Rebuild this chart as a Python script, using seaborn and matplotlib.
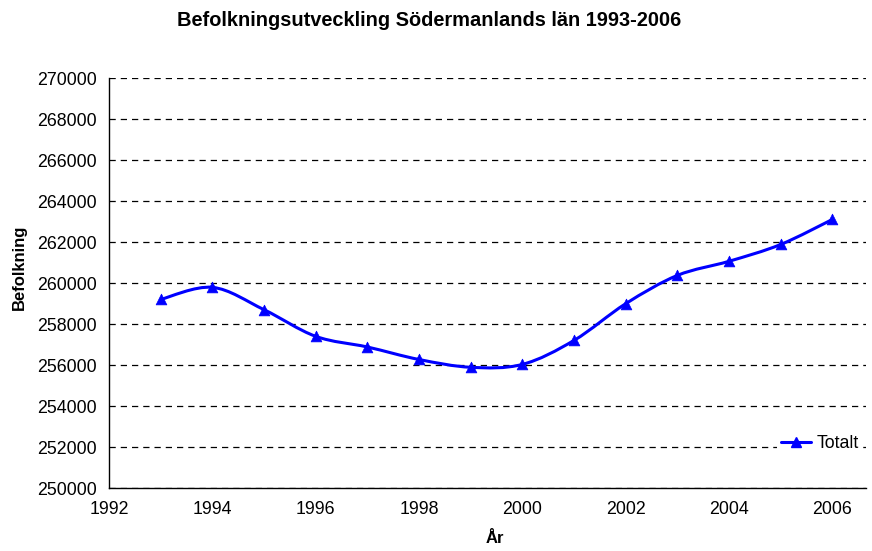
import numpy as np
import matplotlib
matplotlib.use("Agg")
import matplotlib.pyplot as plt
import seaborn as sns
from matplotlib.path import Path
from matplotlib.patches import PathPatch
from matplotlib.lines import Line2D
from matplotlib.ticker import MultipleLocator, FuncFormatter

# Data
years = [1993, 1994, 1995, 1996, 1997, 1998, 1999, 2000, 2001, 2002, 2003, 2004, 2005, 2006]
population = [259200, 259790, 258700, 257400, 256880, 256270, 255890, 256030,
              257200, 258990, 260370, 261060, 261880, 263100]
series_label = "Totalt"
title = "Befolkningsutveckling Södermanlands län 1993-2006"

sns.set_style("white")
plt.rcParams['font.family'] = ['Liberation Sans', 'DejaVu Sans']
plt.rcParams['text.color'] = 'black'

blue = '#0000FF'

fig = plt.figure(figsize=(8.72, 5.51), dpi=100)
ax = fig.add_axes([0.125, 0.1143, 0.868, 0.7441])

# Smoothed curve (Excel-style Bezier smoothing through the data points)
pts = np.column_stack([years, population]).astype(float)
n = len(pts)
verts = [pts[0]]
codes = [Path.MOVETO]
for i in range(n - 1):
    p_prev = pts[i - 1] if i > 0 else pts[i]
    p0, p1 = pts[i], pts[i + 1]
    p_next = pts[i + 2] if i + 2 < n else pts[i + 1]
    c1 = p0 + (p1 - p_prev) / 6.0
    c2 = p1 - (p_next - p0) / 6.0
    verts += [c1, c2, p1]
    codes += [Path.CURVE4] * 3
ax.add_patch(PathPatch(Path(verts, codes), facecolor='none', edgecolor=blue,
                       linewidth=2.2, zorder=3, capstyle='round'))

sns.scatterplot(x=years, y=population, marker='^', s=60, color=blue,
                edgecolor=blue, linewidth=0.5, zorder=4, ax=ax, legend=False)

ax.set_xlim(1992, 2006.65)
ax.set_ylim(250000, 270000)
ax.xaxis.set_major_locator(MultipleLocator(2))
ax.yaxis.set_major_locator(MultipleLocator(2000))
ax.yaxis.set_major_formatter(FuncFormatter(lambda v, p: f"{int(v)}"))

ax.grid(axis='y', color='black', linestyle=(0, (5, 4)), linewidth=0.9)
ax.grid(axis='x', visible=False)
for s in ['top', 'right']:
    ax.spines[s].set_visible(False)
for s in ['left', 'bottom']:
    ax.spines[s].set_color('black')
    ax.spines[s].set_linewidth(1)

ax.tick_params(axis='x', direction='out', length=5, width=1, labelsize=12.8, pad=4, colors='black')
ax.tick_params(axis='y', direction='inout', length=8, width=1, labelsize=12.8, pad=5, colors='black')

ax.set_xlabel("")
ax.set_ylabel("")
fig.text(0.022, 0.515, "Befolkning", rotation=90, fontsize=12, fontweight='bold',
         ha='center', va='center')
fig.text(0.568, 0.022, "År", fontsize=12, fontweight='bold', ha='center', va='center')
fig.text(0.4925, 0.962, title, fontsize=14.4, fontweight='bold', ha='center', va='center')

handle = Line2D([0], [0], color=blue, linewidth=2.2, marker='^', markersize=7.5)
leg = ax.legend([handle], [series_label], loc='lower right', bbox_to_anchor=(0.995, 0.078),
                frameon=True, fontsize=12.8, handlelength=1.7, handletextpad=0.3,
                borderpad=0.2, borderaxespad=0.0, fancybox=False)
leg.get_frame().set_edgecolor('none')
leg.get_frame().set_facecolor('white')
leg.get_frame().set_alpha(1)

fig.savefig("out.png", dpi=100)
